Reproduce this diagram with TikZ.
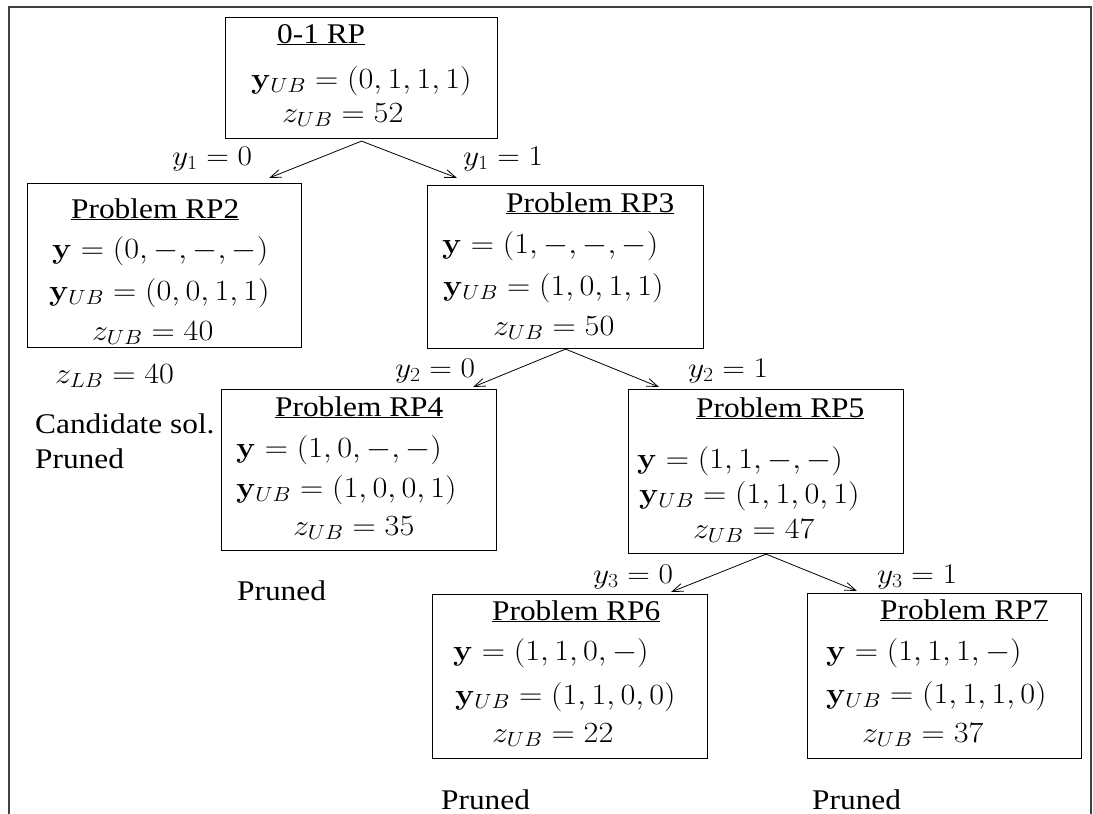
\documentclass[tikz,border=0pt]{standalone}
\usepackage{fix-cm}
\usepackage[no-math]{fontspec}
\setmainfont{Liberation Serif}
\usepackage{graphicx}
\usetikzlibrary{arrows.meta}
\newcommand{\sx}[1]{\scalebox{1.1}[1]{#1}}
\newcommand{\mth}[1]{\scalebox{1.1}[1]{\fontsize{29.3}{34}\selectfont$#1$}}
\begin{document}
\begin{tikzpicture}[x=1pt,y=-1pt,
  font=\fontsize{28.5}{34}\selectfont,
  box/.style={draw, line width=1.1pt, inner sep=0pt, anchor=north west},
  txt/.style={inner sep=0pt, anchor=base west},
  edge/.style={line width=0.8pt, -{Straight Barb[length=11pt,width=8pt]}}]
\useasboundingbox (0,0) rectangle (1093,814);
% outer frame (open at bottom)
\draw[line width=1.6pt, black!75] (9,814) -- (9,7) -- (1091,7) -- (1091,814);

% boxes
\node[box, minimum width=272pt, minimum height=121pt] (root) at (225,17) {};
\node[box, minimum width=274pt, minimum height=164pt] (rp2) at (27,183) {};
\node[box, minimum width=276pt, minimum height=163pt] (rp3) at (427,185) {};
\node[box, minimum width=275pt, minimum height=161pt] (rp4) at (221,389) {};
\node[box, minimum width=275pt, minimum height=164pt] (rp5) at (628,389) {};
\node[box, minimum width=275pt, minimum height=164pt] (rp6) at (432,594) {};
\node[box, minimum width=274pt, minimum height=165pt] (rp7) at (807,593) {};

% root text
\node[txt] (r0a) at (277,43) {\sx{\underline{0-1 RP}}};
\node[txt] (r0b) at (251,88) {\mth{\mathbf{y}_{UB}=(0,1,1,1)}};
\node[txt] (r0c) at (282,122) {\mth{z_{UB}=52}};

% RP2
\node[txt] (r2a) at (71,218) {\sx{\underline{Problem RP2}}};
\node[txt] (r2b) at (52,258) {\mth{\mathbf{y}=(0,-,-,-)}};
\node[txt] (r2c) at (49,300) {\mth{\mathbf{y}_{UB}=(0,0,1,1)}};
\node[txt] (r2d) at (92,340) {\mth{z_{UB}=40}};
\node[txt] (r2e) at (55,383) {\mth{z_{LB}=40}};
\node[txt] (r2f) at (35,433) {\sx{Candidate sol.}};
\node[txt] (r2g) at (35,468) {\sx{Pruned}};

% RP3
\node[txt] (r3a) at (506,212) {\sx{\underline{Problem RP3}}};
\node[txt] (r3b) at (442,253) {\mth{\mathbf{y}=(1,-,-,-)}};
\node[txt] (r3c) at (443,295) {\mth{\mathbf{y}_{UB}=(1,0,1,1)}};
\node[txt] (r3d) at (493,335) {\mth{z_{UB}=50}};

% RP4
\node[txt] (r4a) at (275,416) {\sx{\underline{Problem RP4}}};
\node[txt] (r4b) at (236,457) {\mth{\mathbf{y}=(1,0,-,-)}};
\node[txt] (r4c) at (236,497) {\mth{\mathbf{y}_{UB}=(1,0,0,1)}};
\node[txt] (r4d) at (293,535) {\mth{z_{UB}=35}};
\node[txt] (r4e) at (237,600) {\sx{Pruned}};

% RP5
\node[txt] (r5a) at (696,417) {\sx{\underline{Problem RP5}}};
\node[txt] (r5b) at (637,468) {\mth{\mathbf{y}=(1,1,-,-)}};
\node[txt] (r5c) at (639,503) {\mth{\mathbf{y}_{UB}=(1,1,0,1)}};
\node[txt] (r5d) at (693,538) {\mth{z_{UB}=47}};

% RP6
\node[txt] (r6a) at (492,620) {\sx{\underline{Problem RP6}}};
\node[txt] (r6b) at (453,660) {\mth{\mathbf{y}=(1,1,0,-)}};
\node[txt] (r6c) at (455,704) {\mth{\mathbf{y}_{UB}=(1,1,0,0)}};
\node[txt] (r6d) at (492,742) {\mth{z_{UB}=22}};
\node[txt] (r6e) at (441,809) {\sx{Pruned}};

% RP7
\node[txt] (r7a) at (880,619) {\sx{\underline{Problem RP7}}};
\node[txt] (r7b) at (826,660) {\mth{\mathbf{y}=(1,1,1,-)}};
\node[txt] (r7c) at (826,703) {\mth{\mathbf{y}_{UB}=(1,1,1,0)}};
\node[txt] (r7d) at (862,742) {\mth{z_{UB}=37}};
\node[txt] (r7e) at (812,809) {\sx{Pruned}};

% edge labels
\node[txt] (l10) at (172,165) {\sx{$y_1=0$}};
\node[txt] (l11) at (463,165) {\sx{$y_1=1$}};
\node[txt] (l20) at (395,377) {\sx{$y_2=0$}};
\node[txt] (l21) at (688,377) {\sx{$y_2=1$}};
\node[txt] (l30) at (593,583) {\sx{$y_3=0$}};
\node[txt] (l31) at (877,583) {\sx{$y_3=1$}};

% connectors
\draw[edge] ([yshift=-2pt]root.south) -- ([xshift=-33pt,yshift=5pt]rp2.north east);
\draw[edge] ([yshift=-2pt]root.south) -- ([xshift=30pt,yshift=7pt]rp3.north west);
\draw[edge] (rp3.south) -- ([xshift=-24pt,yshift=2pt]rp4.north east);
\draw[edge] (rp3.south) -- ([xshift=31pt,yshift=2pt]rp5.north west);
\draw[edge] (rp5.south) -- ([xshift=-37pt,yshift=2pt]rp6.north east);
\draw[edge] (rp5.south) -- ([xshift=50pt,yshift=2pt]rp7.north west);
\end{tikzpicture}
\end{document}
